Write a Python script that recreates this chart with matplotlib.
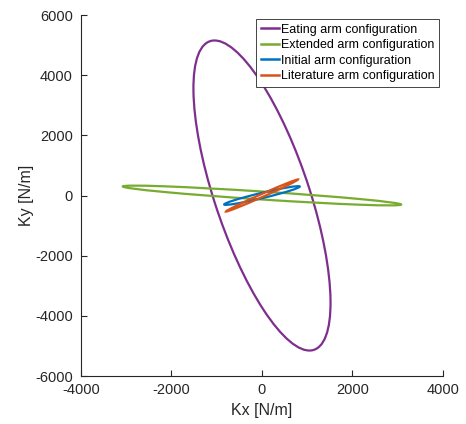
import matplotlib
matplotlib.use("Agg")
import matplotlib.pyplot as plt
from matplotlib.patches import Ellipse
from matplotlib.lines import Line2D

# stiffness ellipses (centred at origin)
configs = ["Eating arm configuration", "Extended arm configuration",
           "Initial arm configuration", "Literature arm configuration"]
semi_major = [5264, 3090, 887, 957]
semi_minor = [1071, 132, 85, 45]
angle_deg = [102.0, -5.6, 19.8, 33.8]
colors = ["#7E2F8E", "#77AC30", "#0072BD", "#D95319"]

xticks = [-4000, -2000, 0, 2000, 4000]
yticks = [-6000, -4000, -2000, 0, 2000, 4000, 6000]

plt.rcParams["font.family"] = ["Liberation Sans", "DejaVu Sans"]
plt.rcParams["axes.unicode_minus"] = False

fig = plt.figure(figsize=(4.66, 4.24), dpi=100)
ax = fig.add_axes([0.1738, 0.1132, 0.7768, 0.8514])

handles = []
for name, a, b, ang, c in zip(configs, semi_major, semi_minor, angle_deg, colors):
    e = Ellipse((0, 0), 2 * a, 2 * b, angle=ang, fill=False, edgecolor=c, lw=1.6)
    ax.add_patch(e)
    handles.append(Line2D([], [], color=c, lw=1.8, label=name))

ax.set_xlim(-4000, 4000)
ax.set_ylim(-6000, 6000)
ax.set_xticks(xticks)
ax.set_yticks(yticks)
ax.tick_params(direction="in", length=4, labelsize=10.5, colors="#262626")
ax.tick_params(axis="x", pad=5)
ax.tick_params(axis="y", pad=6)
for s in ["top", "right"]:
    ax.spines[s].set_visible(False)
for s in ["left", "bottom"]:
    ax.spines[s].set_color("#262626")
    ax.spines[s].set_linewidth(0.8)

ax.set_xlabel("Kx [N/m]", fontsize=11.5, color="#262626", labelpad=4)
ax.set_ylabel("Ky [N/m]", fontsize=11.5, color="#262626", labelpad=0.5)

leg = ax.legend(handles=handles, loc="upper right", fontsize=9, handlelength=1.4,
                handletextpad=0.15, labelspacing=0.28, borderpad=0.4,
                borderaxespad=0.3, fancybox=False, framealpha=1)
leg.get_frame().set_edgecolor("#262626")
leg.get_frame().set_linewidth(0.6)

fig.savefig("out.png", dpi=100)
